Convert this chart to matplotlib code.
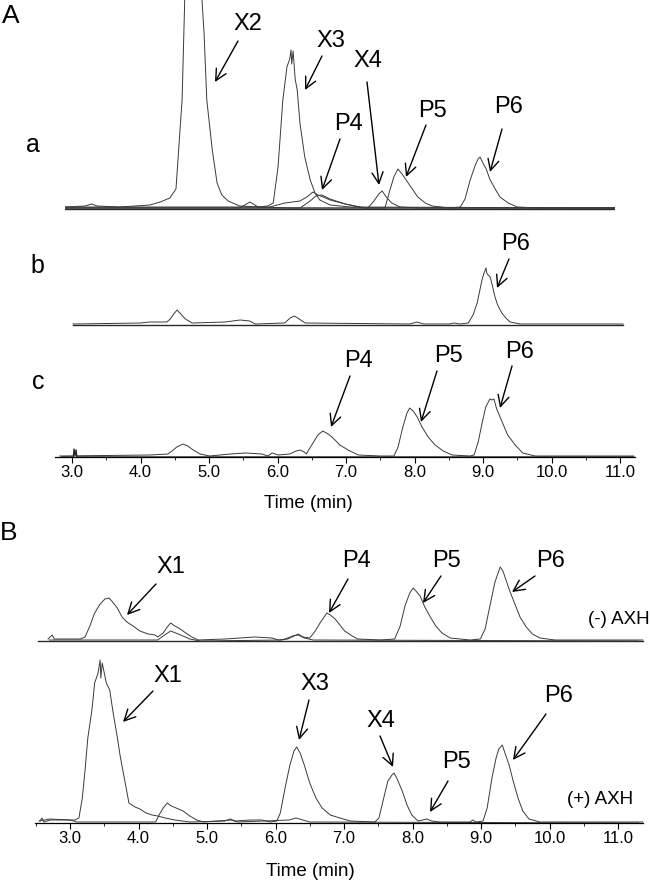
import matplotlib
matplotlib.use("Agg")
import matplotlib.pyplot as plt
from matplotlib.ticker import MultipleLocator, FormatStrFormatter

plt.rcParams['font.family'] = ['Liberation Sans', 'DejaVu Sans']

# ── Data (time in min, signal in arbitrary units) ──
# panel A-a : overlaid runs
a1_t = [3.00, 3.29, 3.39, 3.47, 3.80, 4.24, 4.39, 4.53, 4.62, 4.66, 4.71, 4.75, 4.82, 4.91,
        4.97, 5.00, 5.03, 5.07, 5.15, 5.22, 5.29, 5.38, 5.55, 5.85, 6.28, 6.87, 11.03]
a1_y = [2, 3, 5, 3, 2, 4, 7, 11, 20, 60, 110, 215, 290, 300,
        260, 209, 176, 109, 59, 26, 14, 8, 3, 2, 1, 1, 1]
a2_t = [3.00, 5.55, 5.70, 5.82, 5.96, 6.04, 6.11, 6.18, 6.24, 6.28, 6.30, 6.31, 6.33, 6.36,
        6.39, 6.43, 6.50, 6.58, 6.65, 6.72, 6.87, 7.16, 11.03]
a2_y = [1, 1, 7, 2, 3, 6, 42, 109, 142, 150, 159, 145, 158, 130,
        119, 86, 52, 29, 16, 9, 4, 2, 1]
a3_t = [3.00, 5.99, 6.21, 6.43, 6.53, 6.62, 6.69, 6.77, 6.87, 7.09, 7.35, 11.03]
a3_y = [2, 2, 6, 8, 12, 17, 14, 12, 9, 5, 1, 1]
a4_t = [3.00, 6.43, 6.58, 6.66, 6.75, 6.87, 7.09, 7.31, 7.42, 7.51, 7.58, 7.63, 7.69, 7.77,
        7.89, 8.18, 11.03]
a4_y = [1, 1, 8, 13, 14, 10, 5, 2, 1, 8, 15, 18, 12, 6, 2, 1, 1]
a5_t = [3.00, 7.67, 7.74, 7.80, 7.86, 7.92, 7.99, 8.07, 8.15, 8.26, 8.36, 8.62, 8.77, 8.84,
        8.91, 8.99, 9.03, 9.06, 9.10, 9.15, 9.20, 9.28, 9.35, 9.47, 9.60, 9.93, 11.03]
a5_y = [1, 1, 18, 32, 40, 35, 28, 20, 12, 6, 3, 1, 2, 10,
        28, 44, 50, 52, 46, 40, 30, 20, 12, 6, 2, 1, 1]

# panel A-b
b1_t = [3.00, 3.98, 4.12, 4.37, 4.42, 4.47, 4.52, 4.56, 4.64, 4.74, 5.22, 5.44, 5.58, 5.66,
        6.09, 6.17, 6.23, 6.28, 6.39, 7.92, 8.02, 8.12, 8.50, 8.56, 8.65, 8.77, 8.84, 8.90,
        8.94, 8.97, 9.00, 9.03, 9.04, 9.06, 9.09, 9.12, 9.16, 9.20, 9.26, 9.32, 9.38, 9.53, 11.03]
b1_y = [1, 2, 3, 3, 6, 11, 15, 12, 6, 2, 3, 5, 4, 1,
        2, 7, 9, 7, 2, 1, 3, 1, 1, 2, 1, 2, 10, 22,
        35, 45, 52, 57, 52, 50, 48, 40, 28, 20, 12, 7, 3, 1, 1]
b2_t = [3.00, 11.03]
b2_y = [0, 0]

# panel A-c
c1_t = [2.82, 4.14, 4.40, 4.46, 4.53, 4.62, 4.69, 4.77, 4.87, 5.01, 5.31, 5.53, 5.77, 5.86,
        5.92, 6.01, 6.18, 6.27, 6.33, 6.39, 6.42, 6.50, 6.59, 6.66, 6.74, 6.81, 6.91, 7.03,
        7.18, 7.50, 7.70, 7.76, 7.83, 7.89, 7.93, 7.98, 8.04, 8.11, 8.20, 8.30, 8.42, 8.55,
        8.81, 8.87, 8.93, 8.99, 9.04, 9.10, 9.13, 9.16, 9.20, 9.28, 9.36, 9.47, 9.58, 9.76, 11.20]
c1_y = [1, 2, 3, 6, 10, 13, 11, 7, 3, 1, 3, 4, 3, 1,
        4, 2, 3, 6, 7, 5, 3, 12, 22, 26, 23, 19, 12, 7,
        2, 1, 1, 10, 30, 44, 49, 46, 40, 30, 20, 12, 6, 2,
        1, 2, 15, 35, 50, 58, 57, 58, 48, 35, 22, 12, 4, 1, 1]
c2_t = [2.85, 3.02, 3.03, 3.045, 3.06, 3.07, 11.20]
c2_y = [0, 0, 8, 2, 7, 0, 0]

# panel B, (-) AXH
bt1_t = [2.68, 2.74, 2.77, 2.85, 3.15, 3.22, 3.29, 3.36, 3.44, 3.51, 3.57, 3.61, 3.69, 3.76,
         3.83, 3.92, 4.02, 4.14, 4.24, 4.28, 4.36, 4.42, 4.47, 4.53, 4.61, 4.69, 4.78, 4.87,
         5.26, 5.48, 5.70, 5.95, 6.04, 6.18, 6.27, 6.33, 6.40, 6.50, 6.58, 6.65, 6.71, 6.75,
         6.80, 6.87, 6.94, 7.01, 7.12, 7.20, 7.53, 7.74, 7.82, 7.89, 7.96, 8.01, 8.05, 8.11,
         8.18, 8.26, 8.34, 8.43, 8.55, 8.84, 8.99, 9.06, 9.13, 9.20, 9.28, 9.32, 9.36, 9.42,
         9.50, 9.57, 9.66, 9.75, 9.86, 10.08, 11.36]
bt1_y = [2, 6, 2, 2, 2, 4, 15, 28, 37, 42, 43, 40, 33, 24,
         19, 15, 10, 7, 6, 4, 8, 14, 18, 15, 12, 8, 4, 1,
         2, 3, 4, 3, 1, 2, 5, 7, 4, 3, 10, 18, 24, 28,
         26, 22, 16, 10, 5, 2, 1, 2, 15, 35, 48, 53, 50, 45,
         34, 24, 15, 8, 3, 1, 2, 12, 35, 58, 74, 70, 62, 50,
         36, 24, 14, 7, 3, 1, 1]
bt2_t = [2.70, 4.28, 4.38, 4.47, 4.58, 4.75, 4.90, 6.10, 6.25, 6.33, 6.42, 6.55, 11.30]
bt2_y = [1, 1, 6, 10, 7, 2, 0, 1, 5, 6, 3, 1, 0]

# panel B, (+) AXH
bb1_t = [2.56, 2.59, 2.62, 2.71, 2.85, 3.07, 3.13, 3.18, 3.22, 3.26, 3.32, 3.36, 3.41, 3.44,
         3.45, 3.47, 3.50, 3.53, 3.58, 3.63, 3.69, 3.73, 3.77, 3.82, 3.86, 3.95, 4.02, 4.11,
         4.20, 4.28, 4.39, 4.53, 4.75, 5.26, 5.34, 5.41, 5.63, 5.80, 5.92, 6.02, 6.07, 6.14,
         6.21, 6.27, 6.31, 6.36, 6.42, 6.50, 6.59, 6.68, 6.80, 6.94, 7.09, 7.45, 7.51, 7.58,
         7.64, 7.70, 7.73, 7.77, 7.85, 7.92, 7.99, 8.08, 8.15, 8.21, 8.28, 8.40, 8.84, 8.88,
         8.93, 9.03, 9.09, 9.16, 9.22, 9.26, 9.31, 9.35, 9.41, 9.47, 9.54, 9.61, 9.70, 9.86, 11.36]
bb1_y = [2, 5, 1, 3, 3, 3, 5, 25, 53, 85, 113, 140, 150, 163,
         145, 160, 150, 140, 133, 110, 86, 68, 53, 35, 20, 16, 14, 10,
         8, 7, 5, 3, 1, 2, 4, 2, 3, 3, 1, 2, 10, 35,
         58, 72, 76, 70, 58, 40, 25, 15, 8, 5, 2, 1, 5, 25,
         42, 48, 50, 45, 32, 18, 8, 2, 3, 4, 2, 1, 1, 3,
         1, 2, 15, 45, 65, 74, 78, 70, 58, 42, 25, 12, 4, 1, 1]
bb2_t = [2.55, 2.70, 3.00, 3.10, 4.25, 4.30, 4.36, 4.42, 4.48, 4.55, 4.65, 4.75, 4.85, 4.95,
         5.35, 5.45, 6.20, 6.30, 6.40, 6.50, 11.30]
bb2_y = [2, 4, 3, 1, 1, 8, 15, 20, 17, 15, 12, 7, 3, 1,
         3, 1, 3, 5, 3, 1, 0]

tick_vals = [3.0, 4.0, 5.0, 6.0, 7.0, 8.0, 9.0, 10.0, 11.0]

# peak labels: (text, label x, label y, arrow tail, arrow head) in figure pixels
labels = [
    ("X2", 248, 24, (238, 41), (215, 82)),
    ("X3", 331, 41, (322, 56), (305, 90)),
    ("X4", 368, 61, (367, 82), (379, 185)),
    ("P4", 348, 124, (340, 139), (322, 190)),
    ("P5", 433, 111, (426, 125), (406, 177)),
    ("P6", 509, 107, (502, 129), (490, 172)),
    ("P6", 516, 244, (509, 259), (497, 288)),
    ("P4", 358, 361, (350, 376), (331, 427)),
    ("P5", 448, 356, (437, 371), (421, 422)),
    ("P6", 520, 352, (512, 366), (500, 408)),
    ("X1", 171, 567, (156, 584), (127, 615)),
    ("P4", 356, 561, (348, 579), (329, 613)),
    ("P5", 447, 561, (441, 576), (423, 603)),
    ("P6", 551, 561, (535, 576), (512, 592)),
    ("X1", 168, 676, (153, 691), (123, 722)),
    ("X3", 315, 684, (309, 700), (299, 740)),
    ("X4", 381, 721, (380, 736), (393, 767)),
    ("P5", 456, 762, (448, 781), (430, 812)),
    ("P6", 559, 696, (546, 714), (513, 760)),
]

W, H = 650, 885
PX_PER_MIN = 68.5
LINE = dict(color='#3a3a3a', lw=0.7, clip_on=False)
BASE = dict(color='#2a2a2a', lw=1.0, clip_on=False)

fig = plt.figure(figsize=(W / 100, H / 100), dpi=100)


def panel(left, right, base, top, t_left_px, ticks=False):
    """Axes laid out in figure pixels; x in minutes, y in pixel heights."""
    ax = fig.add_axes([left / W, 1 - (base + 2) / H, (right - left) / W, (base + 2 - top) / H])
    t0 = 3.0 - (t_left_px - left) / PX_PER_MIN
    ax.set_xlim(t0, t0 + (right - left) / PX_PER_MIN)
    ax.set_ylim(-2, base - top)
    ax.patch.set_visible(False)
    for s in ax.spines.values():
        s.set_visible(False)
    ax.set_yticks([])
    if ticks:
        ax.spines['bottom'].set_visible(True)
        ax.spines['bottom'].set_position(('data', 0))
        ax.spines['bottom'].set_linewidth(0.9)
        ax.set_xticks(tick_vals)
        ax.xaxis.set_major_formatter(FormatStrFormatter('%.1f'))
        ax.xaxis.set_minor_locator(MultipleLocator(0.5))
        ax.tick_params(axis='x', which='major', length=4, width=0.8, labelsize=12, pad=2)
        ax.tick_params(axis='x', which='minor', length=2, width=0.6)
    else:
        ax.set_xticks([])
    return ax


ax_a = panel(65, 615, 209, 0, 65)
ax_a.plot([3.0, 11.03], [0, 0], **BASE)
for t, y in [(a1_t, a1_y), (a2_t, a2_y), (a3_t, a3_y), (a4_t, a4_y), (a5_t, a5_y)]:
    ax_a.plot(t, y, **LINE)
ax_a.set_ylim(-2, 209)
for ln in ax_a.lines:
    ln.set_clip_on(True)

ax_b = panel(73, 623, 325, 230, 73)
ax_b.plot(b2_t, b2_y, **BASE)
ax_b.plot(b1_t, b1_y, **LINE)

ax_c = panel(55, 635, 457, 380, 72, ticks=True)
ax_c.plot(c1_t, c1_y, **LINE)
ax_c.plot(c2_t, c2_y, **BASE)

ax_bt = panel(35, 643, 641, 550, 70)
ax_bt.plot([ax_bt.get_xlim()[0] + 0.05, ax_bt.get_xlim()[1]], [0, 0], **BASE)
for t, y in [(bt1_t, bt1_y), (bt2_t, bt2_y)]:
    ax_bt.plot(t, y, **LINE)

ax_bb = panel(35, 643, 823, 655, 70, ticks=True)
for t, y in [(bb1_t, bb1_y), (bb2_t, bb2_y)]:
    ax_bb.plot(t, y, **LINE)

# overlay for lettering and arrows (figure pixel coordinates)
ov = fig.add_axes([0, 0, 1, 1])
ov.set_xlim(0, W)
ov.set_ylim(H, 0)
ov.axis('off')
ov.patch.set_visible(False)

for txt, lx, ly, tail, head in labels:
    ov.text(lx, ly, txt, fontsize=17, ha='center', va='center')
    ov.annotate('', xy=head, xytext=tail,
                arrowprops=dict(arrowstyle='->', lw=1.0, color='black',
                                mutation_scale=20, shrinkA=0, shrinkB=0))

ov.text(11, 16, "A", fontsize=19, ha='center', va='center')
ov.text(9, 533, "B", fontsize=19, ha='center', va='center')
ov.text(33, 145, "a", fontsize=18, ha='center', va='center')
ov.text(37, 266, "b", fontsize=18, ha='center', va='center')
ov.text(38, 382, "c", fontsize=18, ha='center', va='center')
ov.text(308, 503, "Time (min)", fontsize=13.5, ha='center', va='center')
ov.text(310, 872, "Time (min)", fontsize=13.5, ha='center', va='center')
ov.text(619, 620, "(-) AXH", fontsize=13.5, ha='center', va='center')
ov.text(600, 800, "(+) AXH", fontsize=13.5, ha='center', va='center')

fig.savefig("out.png", dpi=100, facecolor='white')
